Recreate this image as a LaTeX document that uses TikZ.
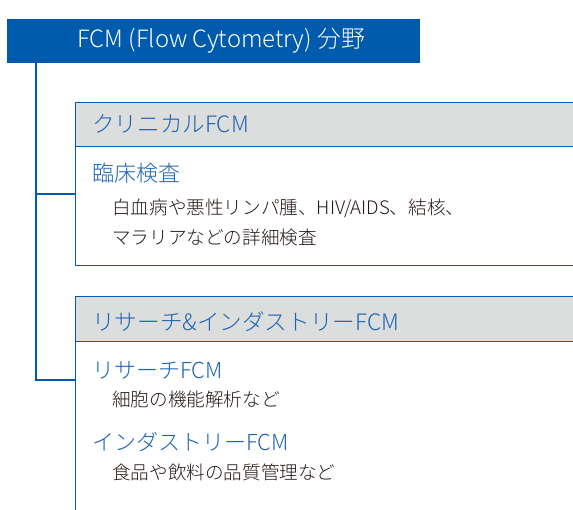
\documentclass[tikz,border=0pt]{standalone}
\usepackage{fontspec}
\setmainfont{Noto Sans CJK JP Light}
\definecolor{fcmblue}{HTML}{005BAC}
\definecolor{txtblue}{HTML}{1E64B4}
\definecolor{hdrgray}{HTML}{DCDEDD}
\definecolor{txtdark}{HTML}{231815}
\tikzset{
  topbox/.style={fill=fcmblue, draw=none, minimum width=413pt, minimum height=44pt, anchor=north west, inner sep=0pt},
  panel/.style={draw=fcmblue, line width=1.4pt, minimum width=520pt, anchor=north west, inner sep=0pt},
  header/.style={panel, fill=hdrgray, minimum height=44pt},
  conn/.style={draw=fcmblue, line width=1.4pt},
  toptext/.style={anchor=west, text=white, font=\fontsize{23.8}{28}\selectfont, inner sep=0pt},
  hdrtext/.style={anchor=west, text=txtblue, font=\fontsize{22.6}{26}\selectfont, inner sep=0pt},
  subtext/.style={anchor=west, text=txtblue, font=\fontsize{22}{26}\selectfont, inner sep=0pt},
  bodytext/.style={anchor=west, text=txtdark, font=\fontsize{18.6}{22}\selectfont, inner sep=0pt},
}
\begin{document}
\begin{tikzpicture}[x=1pt,y=1pt]
\useasboundingbox (0,0) rectangle (573,-510);
\clip (0,0) rectangle (573,-510);
% top box
\node[topbox] (top) at (7,-19) {};
\node[toptext] (toplabel) at (77,-41) {FCM (Flow Cytometry) 分野};
% panel 1
\node[panel, minimum height=163pt] (box1) at (75,-102) {};
\node[header] (hdr1) at (75,-102) {};
\node[hdrtext] (hdr1text) at (92,-124) {クリニカルFCM};
\node[subtext] (sub1) at (92,-173) {臨床検査};
\node[bodytext] (body1a) at (112,-208) {白血病や悪性リンパ腫、HIV/AIDS、結核、};
\node[bodytext] (body1b) at (112,-237) {マラリアなどの詳細検査};
% panel 2
\node[panel, minimum height=260pt] (box2) at (75,-296) {};
\node[header, minimum height=45pt] (hdr2) at (75,-296) {};
\node[hdrtext] (hdr2text) at (92,-322) {リサーチ\&インダストリーFCM};
\node[subtext] (sub2) at (92,-370) {リサーチFCM};
\node[bodytext] (body2a) at (112,-399) {細胞の機能解析など};
\node[subtext] (sub3) at (92,-442) {インダストリーFCM};
\node[bodytext] (body2b) at (112,-472) {食品や飲料の品質管理など};
% connectors
\coordinate (trunk) at (36,-63);
\coordinate (b1) at (75,-194);
\coordinate (b2) at (75,-380);
\draw[conn] (trunk) |- (b1);
\draw[conn] (trunk) |- (b2);
\end{tikzpicture}
\end{document}
